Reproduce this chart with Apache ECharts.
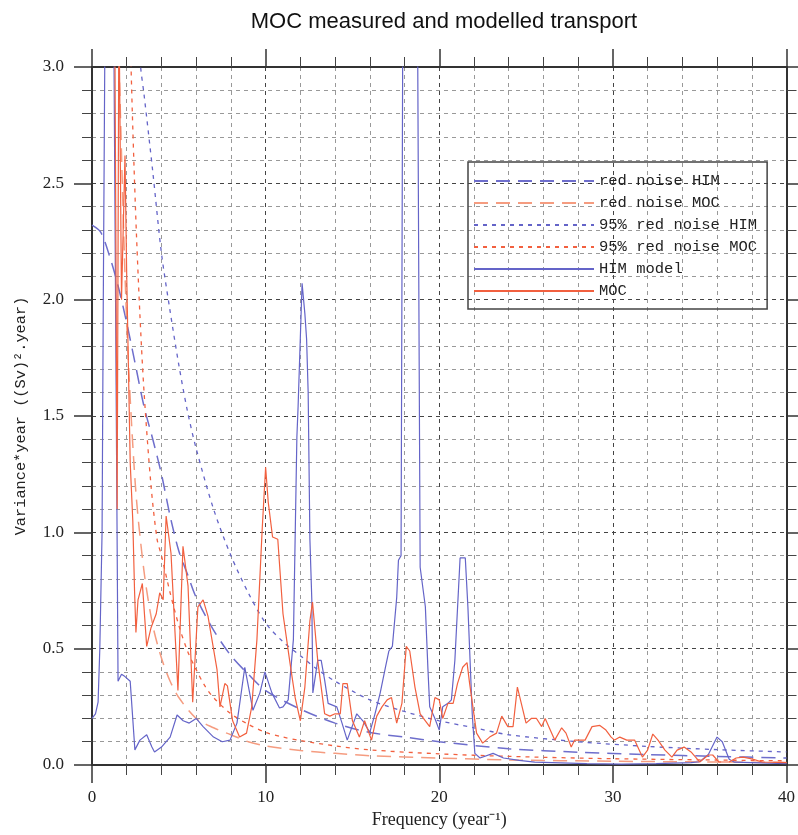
<!DOCTYPE html>
<html>
<head>
<meta charset="utf-8">
<script src="https://cdn.jsdelivr.net/npm/echarts@6/dist/echarts.min.js"></script>
<style>html,body{margin:0;padding:0;background:#fff;}#c{width:798px;height:835px;}</style>
</head>
<body>
<div id="c"></div>
<script>
// ---- data ----
const titleText = 'MOC measured and modelled transport';
const xTicks = [0, 10, 20, 30, 40];
const yTicks = [0.0, 0.5, 1.0, 1.5, 2.0, 2.5, 3.0];

const himFreq = [0,0.2,0.35,0.45,0.58,0.65,0.75,0.9,1.05,1.2,1.27,1.4,1.5,1.7,1.9,2.2,2.47,2.76,3.15,3.45,3.6,4.0,4.5,4.9,5.25,5.6,6.0,6.4,7.0,7.5,7.95,8.35,8.8,9.27,9.67,9.96,10.36,10.8,11.0,11.3,11.6,11.8,11.87,12.1,12.26,12.36,12.45,12.55,12.66,12.72,13.0,13.2,13.4,13.6,14.1,14.4,14.7,15.25,15.6,16.0,16.3,16.6,16.9,17.1,17.3,17.55,17.65,17.8,17.9,18.2,18.5,18.75,18.9,19.2,19.35,19.45,19.75,20.0,20.2,20.5,20.7,20.9,21.2,21.5,21.65,21.9,22.05,22.35,23.1,23.7,24.6,25.5,26.5,27.5,28.5,29.5,30.5,31.5,32.5,33.5,34.5,35.0,35.5,36.0,36.3,36.7,37.0,38.0,39.0,40.0];
const himPower = [0.2,0.22,0.27,0.5,1.0,2.0,3.2,4.5,5.0,4.0,3.0,1.5,0.36,0.39,0.38,0.36,0.065,0.107,0.13,0.077,0.056,0.077,0.12,0.215,0.19,0.18,0.2,0.165,0.12,0.1,0.107,0.18,0.42,0.235,0.31,0.4,0.31,0.245,0.25,0.28,0.54,1.41,1.54,2.07,1.94,1.83,1.6,0.97,0.71,0.31,0.45,0.45,0.365,0.265,0.25,0.18,0.107,0.22,0.19,0.14,0.22,0.31,0.42,0.49,0.51,0.72,0.88,0.9,3.2,5.5,5.0,3.2,0.85,0.68,0.41,0.25,0.2,0.15,0.25,0.265,0.28,0.45,0.89,0.89,0.68,0.22,0.05,0.03,0.05,0.03,0.02,0.012,0.01,0.008,0.006,0.005,0.004,0.005,0.006,0.008,0.01,0.014,0.045,0.12,0.1,0.025,0.012,0.01,0.008,0.006];

const mocFreq = [0,0.5,1.0,1.3,1.45,1.55,1.7,1.9,2.0,2.1,2.2,2.35,2.45,2.53,2.65,2.9,3.15,3.4,3.7,3.9,4.1,4.27,4.55,4.95,5.24,5.53,5.8,6.1,6.4,6.68,7.2,7.37,7.65,7.8,8.1,8.5,8.9,9.2,9.5,9.8,10.0,10.15,10.4,10.7,11.0,11.4,11.7,12.0,12.26,12.55,12.7,13.0,13.4,13.7,14.0,14.3,14.45,14.7,15.0,15.4,15.7,16.1,16.4,16.7,17.0,17.25,17.55,17.85,18.1,18.3,18.6,18.9,19.2,19.45,19.75,20.0,20.2,20.5,20.8,21.05,21.35,21.6,21.75,22.15,22.5,22.9,23.3,23.6,23.95,24.25,24.5,25.0,25.3,25.6,25.9,26.1,26.65,27.05,27.3,27.6,27.8,28.4,28.8,29.25,29.6,29.9,30.1,30.4,30.8,31.25,31.7,32.0,32.3,32.6,33.0,33.4,33.7,34.1,34.5,35.0,35.5,35.75,36.1,36.7,37.1,37.5,38.0,38.6,40.0];
const mocPower = [4.5,7.0,6.0,3.4,1.1,3.3,2.0,2.62,2.1,1.7,1.3,1.05,0.75,0.57,0.71,0.78,0.51,0.59,0.65,0.74,0.71,1.07,0.91,0.32,0.94,0.77,0.27,0.68,0.71,0.64,0.41,0.25,0.35,0.34,0.19,0.12,0.137,0.25,0.54,1.01,1.28,1.13,0.98,0.97,0.65,0.44,0.29,0.19,0.335,0.62,0.70,0.45,0.22,0.21,0.22,0.22,0.35,0.35,0.19,0.12,0.19,0.107,0.21,0.25,0.28,0.29,0.18,0.265,0.51,0.49,0.335,0.22,0.19,0.165,0.29,0.28,0.2,0.265,0.265,0.35,0.42,0.44,0.35,0.137,0.094,0.12,0.137,0.21,0.165,0.165,0.335,0.18,0.2,0.2,0.165,0.2,0.107,0.16,0.137,0.077,0.107,0.107,0.165,0.17,0.15,0.12,0.107,0.12,0.107,0.107,0.034,0.064,0.133,0.107,0.064,0.034,0.064,0.077,0.056,0.013,0.043,0.043,0.013,0.013,0.03,0.034,0.026,0.013,0.01];

const rnHimFreq = [0,0.5,1,1.5,2,2.5,3,3.5,4,4.5,5,5.5,6,7,8,9,10,12,14,16,18,20,24,28,32,36,40];
const rnHimPower = [2.32,2.29,2.19,2.06,1.90,1.72,1.54,1.40,1.25,1.07,0.92,0.82,0.72,0.58,0.47,0.39,0.32,0.24,0.18,0.14,0.12,0.10,0.07,0.055,0.045,0.037,0.03];

const rn95HimFreq = [0,1,2,2.5,2.8,3,3.5,4,4.5,5,5.5,6,7,8,9,10,11,12,13,14,16,18,20,22,24,28,32,36,40];
const rn95HimPower = [4.6,4.4,3.8,3.3,3.0,2.88,2.55,2.2,1.95,1.72,1.52,1.36,1.1,0.9,0.74,0.61,0.53,0.47,0.41,0.36,0.28,0.23,0.19,0.16,0.13,0.10,0.08,0.066,0.056];

const rnMocFreq = [1,1.4,1.6,2,2.5,3,3.5,4,4.5,5,6,7,8,9,10,12,14,16,20,24,30,40];
const rnMocPower = [7.0,3.5,2.9,1.9,1.2,0.83,0.6,0.46,0.36,0.29,0.2,0.16,0.13,0.1,0.082,0.062,0.05,0.04,0.03,0.022,0.016,0.011];

const rn95MocFreq = [1.5,2.0,2.25,2.5,2.75,3.0,3.4,3.75,4.0,4.5,5.0,5.5,6,6.5,7,8,9,10,11,12,14,16,20,24,30,40];
const rn95MocPower = [6.5,3.9,3.0,2.4,1.95,1.6,1.2,0.97,0.9,0.74,0.6,0.49,0.41,0.34,0.29,0.22,0.175,0.14,0.12,0.105,0.082,0.065,0.048,0.037,0.027,0.018];

const seriesNames = ['red noise HIM','red noise MOC','95% red noise HIM','95% red noise MOC','HIM model','MOC'];

function pairs(xs, ys){ return xs.map((x,i)=>[x, ys[i]]); }

const BLUE = '#6464c8';
const RED = '#f2603f';
const serif = 'Liberation Serif';
const mono = 'Liberation Mono';

const chart = echarts.init(document.getElementById('c'), null, {renderer:'canvas'});

const baseX = {
  type:'value', min:0, max:40, interval:10,
  axisLine:{show:true, onZero:false, lineStyle:{color:'#333', width:2}},
  axisTick:{show:true, inside:false, length:18, lineStyle:{color:'#333', width:1.5}},
  minorTick:{show:true, splitNumber:5, length:10, lineStyle:{color:'#444', width:1}}
};
const baseY = {
  type:'value', min:0, max:3, interval:0.5,
  axisLine:{show:true, onZero:false, lineStyle:{color:'#333', width:2}},
  axisTick:{show:true, inside:false, length:18, lineStyle:{color:'#333', width:1.5}},
  minorTick:{show:true, splitNumber:5, length:10, lineStyle:{color:'#444', width:1}}
};

chart.setOption({
  animation:false,
  backgroundColor:'#fff',
  title:{text:titleText, left:439, top:6, textAlign:'center',
    textStyle:{fontFamily:'Liberation Sans', fontSize:22, fontWeight:'normal', color:'#111'}},
  grid:{left:92, right:11, top:67, bottom:70, containLabel:false},
  legend:{
    data:seriesNames, orient:'vertical', left:468, top:162,
    padding:[11,10,10,5], itemWidth:120, itemHeight:14, itemGap:6,
    borderColor:'#444', borderWidth:1.5, backgroundColor:'transparent',
    textStyle:{fontFamily:mono, fontSize:15.5, color:'#222', lineHeight:14},
    itemStyle:{opacity:0}
  },
  xAxis:[
    Object.assign({}, baseX, {
      position:'bottom',
      axisLabel:{show:true, margin:24, fontFamily:serif, fontSize:17, color:'#222',
        formatter:v=> xTicks.includes(v) ? String(v) : ''},
      name:'Frequency (year⁻¹)', nameLocation:'middle', nameGap:46,
      nameTextStyle:{fontFamily:serif, fontSize:18, color:'#222'},
      splitLine:{show:true, lineStyle:{color:'#444', type:[4,4], width:1}},
      minorSplitLine:{show:true, lineStyle:{color:'#999', type:[4,4], width:1}}
    }),
    Object.assign({}, baseX, {
      position:'top', axisLabel:{show:false}, splitLine:{show:false}, minorSplitLine:{show:false}
    })
  ],
  yAxis:[
    Object.assign({}, baseY, {
      position:'left',
      axisLabel:{show:true, margin:28, fontFamily:serif, fontSize:17, color:'#222',
        formatter:v=>{ const t = yTicks.find(k=>Math.abs(k-v)<1e-9); return t===undefined ? '' : t.toFixed(1); }},
      name:'Variance*year ((Sv)².year)', nameLocation:'middle', nameGap:64, nameRotate:90,
      nameTextStyle:{fontFamily:mono, fontSize:15.3, color:'#222'},
      splitLine:{show:true, lineStyle:{color:'#444', type:[4,4], width:1}},
      minorSplitLine:{show:true, lineStyle:{color:'#999', type:[4,4], width:1}}
    }),
    Object.assign({}, baseY, {
      position:'right', axisLabel:{show:false}, splitLine:{show:false}, minorSplitLine:{show:false}
    })
  ],
  series:[
    {name:seriesNames[0], type:'line', data:pairs(rnHimFreq, rnHimPower), smooth:0.3, symbol:'none', clip:true,
      lineStyle:{color:'#6e6ecc', width:1.5, type:[14,8]}, itemStyle:{color:'#6e6ecc'}, z:2},
    {name:seriesNames[1], type:'line', data:pairs(rnMocFreq, rnMocPower), smooth:0.3, symbol:'none', clip:true,
      lineStyle:{color:'#f59c80', width:1.5, type:[14,8]}, itemStyle:{color:'#f59c80'}, z:2},
    {name:seriesNames[2], type:'line', data:pairs(rn95HimFreq, rn95HimPower), smooth:0.3, symbol:'none', clip:true,
      lineStyle:{color:BLUE, width:1.3, type:[4,5]}, itemStyle:{color:BLUE}, z:2},
    {name:seriesNames[3], type:'line', data:pairs(rn95MocFreq, rn95MocPower), smooth:0.3, symbol:'none', clip:true,
      lineStyle:{color:RED, width:1.3, type:[4,5]}, itemStyle:{color:RED}, z:2},
    {name:seriesNames[4], type:'line', data:pairs(himFreq, himPower), symbol:'none', clip:true,
      lineStyle:{color:BLUE, width:1.2}, itemStyle:{color:BLUE}, z:3},
    {name:seriesNames[5], type:'line', data:pairs(mocFreq, mocPower), symbol:'none', clip:true,
      lineStyle:{color:RED, width:1.2}, itemStyle:{color:RED}, z:4}
  ]
});
</script>
</body>
</html>
